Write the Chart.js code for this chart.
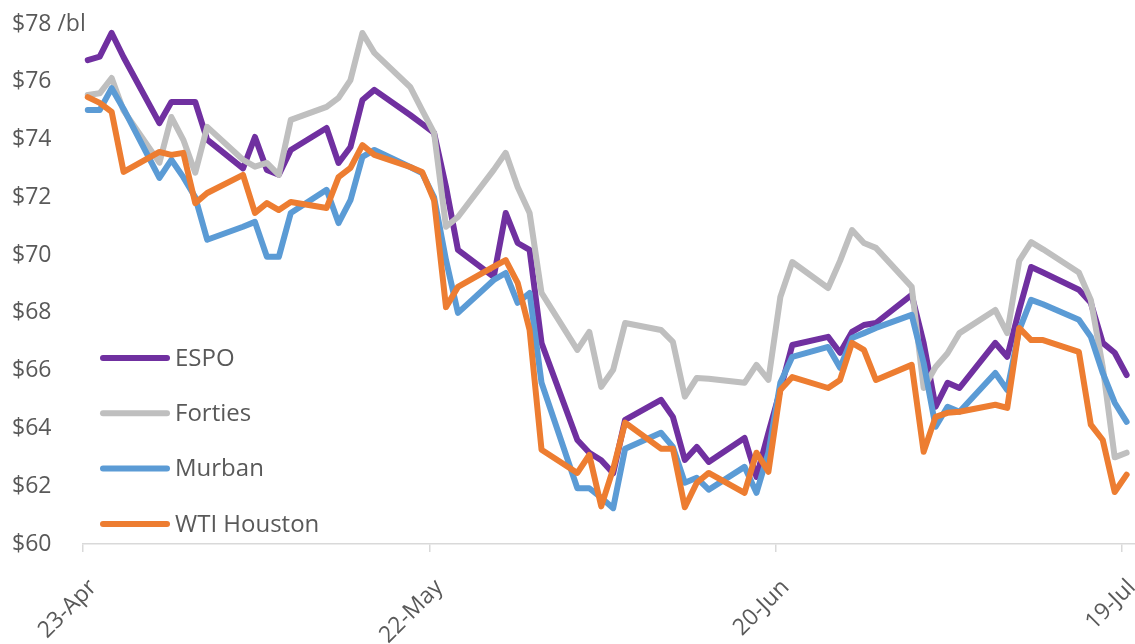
<!DOCTYPE html>
<html>
<head>
<meta charset="utf-8">
<script src="https://cdn.jsdelivr.net/npm/chart.js@4/dist/chart.umd.min.js"></script>
<style>
  html, body { margin: 0; padding: 0; background: #fff; }
</style>
</head>
<body>
<canvas id="myChart" width="1135" height="644"></canvas>
<script>
// trading days, counted in calendar days from 23-Apr
var days = [0, 1, 2, 3,
  6, 7, 8, 9, 10,
  13, 14, 15, 16, 17,
  20, 21, 22, 23, 24,
  27, 28, 29, 30, 31,
  34, 35, 36, 37, 38,
  41, 42, 43, 44, 45,
  48, 49, 50, 51, 52,
  55, 56, 57, 58, 59,
  62, 63, 64, 65, 66,
  69, 70, 71, 72, 73,
  76, 77, 78, 79, 80,
  83, 84, 85, 86, 87];

var espo = [76.75, 76.87, 77.69, 76.85,
  74.57, 75.3, 75.3, 75.3, 74.0,
  73.0, 74.09, 72.95, 72.78, 73.64,
  74.4, 73.19, 73.74, 75.37, 75.72,
  74.85, 74.54, 74.23, 72.36, 70.18,
  69.25, 71.46, 70.42, 70.18, 66.96,
  63.6, 63.16, 62.9, 62.45, 64.3,
  64.99, 64.4, 62.91, 63.36, 62.84,
  63.67, 62.32, 63.85, 65.33, 66.89,
  67.17, 66.62, 67.34, 67.58, 67.65,
  68.62, 66.96, 64.75, 65.58, 65.4,
  66.96, 66.48, 68.1, 69.59, 69.4,
  68.8, 68.35, 66.96, 66.62, 65.85];

var forties = [75.54, 75.6, 76.13, 75.0,
  73.2, 74.78, 73.99, 72.85, 74.44,
  73.3, 73.06, 73.19, 72.78, 74.68,
  75.13, 75.44, 76.06, 77.69, 77.0,
  75.82, 75.02, 74.23, 70.98, 71.32,
  72.95, 73.54, 72.36, 71.46, 68.69,
  66.72, 67.34, 65.44, 66.03, 67.65,
  67.41, 67.0, 65.1, 65.75, 65.72,
  65.58, 66.2, 65.68, 68.55, 69.76,
  68.86, 69.8, 70.87, 70.42, 70.25,
  68.9, 65.4, 66.13, 66.6, 67.3,
  68.1, 67.3, 69.8, 70.45, 70.2,
  69.4, 68.45, 66.13, 63.0, 63.16];

var murban = [75.02, 75.02, 75.78, 75.06,
  72.67, 73.3, 72.7, 72.0, 70.53,
  70.98, 71.15, 69.94, 69.94, 71.46,
  72.26, 71.11, 71.9, 73.4, 73.64,
  73.05, 72.84, 72.0, 69.83, 68.0,
  69.14, 69.38, 68.35, 68.69, 65.58,
  61.93, 61.93, 61.6, 61.24, 63.3,
  63.85, 63.36, 62.12, 62.29, 61.88,
  62.67, 61.77, 63.16, 65.58, 66.48,
  66.82, 66.1, 67.13, 67.3, 67.48,
  67.93, 66.27, 64.06, 64.75, 64.58,
  65.92, 65.33, 67.4, 68.45, 68.3,
  67.76, 67.17, 65.92, 64.89, 64.23];

var wtiHouston = [75.47, 75.27, 74.96, 72.88,
  73.57, 73.47, 73.54, 71.8, 72.15,
  72.78, 71.46, 71.8, 71.56, 71.84,
  71.63, 72.7, 73.02, 73.81, 73.47,
  73.05, 72.88, 71.9, 68.2, 68.9,
  69.6, 69.83, 69.04, 67.41, 63.26,
  62.46, 63.08, 61.3, 62.6, 64.2,
  63.3, 63.3, 61.27, 62.12, 62.46,
  61.77, 63.16, 62.5, 65.33, 65.78,
  65.4, 65.68, 66.96, 66.72, 65.68,
  66.2, 63.19, 64.4, 64.54, 64.58,
  64.82, 64.71, 67.48, 67.06, 67.06,
  66.65, 64.13, 63.6, 61.8, 62.4];

var tickDays = [0, 29, 58, 87];
var tickLabels = ['23-Apr', '22-May', '20-Jun', '19-Jul'];
var unitLabel = ' /bl';

var textColor = '#595959';
var fontFamily = '"Open Sans", sans-serif';
var tickFont = '23px ' + fontFamily;

function pts(vals) {
  return vals.map(function (v, i) { return { x: days[i], y: v }; });
}

function series(label, vals, color, order) {
  return {
    label: label,
    data: pts(vals),
    borderColor: color,
    backgroundColor: color,
    borderWidth: 6,
    pointRadius: 0,
    tension: 0,
    borderJoinStyle: 'round',
    borderCapStyle: 'round',
    order: order
  };
}

// legend sits inside the plot, bottom left; unit text goes after the top y label
var extras = {
  id: 'extras',
  afterDraw: function (chart) {
    var ctx = chart.ctx;
    var ys = chart.scales.y;
    ctx.save();

    // " /bl" next to the top tick label (the axis box would clip it)
    ctx.font = tickFont;
    ctx.fillStyle = textColor;
    ctx.textBaseline = 'middle';
    var topLabel = '$' + ys.max;
    ctx.fillText(unitLabel, ys.left + ctx.measureText(topLabel).width, ys.getPixelForValue(ys.max));

    ctx.font = '24px ' + fontFamily;
    chart.data.datasets.forEach(function (ds, i) {
      var y = 358 + i * 55.3;
      ctx.strokeStyle = ds.borderColor;
      ctx.lineWidth = 6;
      ctx.lineCap = 'round';
      ctx.beginPath();
      ctx.moveTo(103, y);
      ctx.lineTo(167, y);
      ctx.stroke();
      ctx.fillStyle = textColor;
      ctx.fillText(ds.label, 175, y + 1);
    });
    ctx.restore();
  }
};

var ctx = document.getElementById('myChart').getContext('2d');
var chart = new Chart(ctx, {
  type: 'line',
  data: {
    datasets: [
      series('ESPO', espo, '#7030A0', 3),
      series('Forties', forties, '#BFBFBF', 2),
      series('Murban', murban, '#5B9BD5', 1),
      series('WTI Houston', wtiHouston, '#ED7D31', 0)
    ]
  },
  options: {
    responsive: false,
    animation: false,
    devicePixelRatio: 1,
    layout: { padding: { left: 12, top: 24, right: 0, bottom: 0 } },
    plugins: {
      legend: { display: false },
      tooltip: { enabled: false }
    },
    scales: {
      x: {
        type: 'linear',
        min: -0.4,
        max: 87.7,
        afterBuildTicks: function (scale) {
          scale.ticks = tickDays.map(function (d) { return { value: d - 0.4 }; });
        },
        afterFit: function (scale) {
          scale.height = 100;
          scale.paddingLeft = 0;
          scale.paddingRight = 0;
        },
        grid: { drawOnChartArea: false, drawTicks: true, tickLength: 8, color: '#d9d9d9', lineWidth: 1.5 },
        border: { display: true, color: '#d9d9d9', width: 1.5 },
        ticks: {
          autoSkip: false,
          maxRotation: 45,
          minRotation: 45,
          padding: 22,
          labelOffset: 10,
          color: textColor,
          font: { family: fontFamily, size: 23 },
          callback: function (v, i) { return tickLabels[i]; }
        }
      },
      y: {
        min: 60,
        max: 78,
        afterFit: function (scale) {
          scale.width = 71;
          scale.paddingTop = 0;
          scale.paddingBottom = 0;
        },
        grid: { display: false },
        border: { display: false },
        ticks: {
          stepSize: 2,
          crossAlign: 'far',
          padding: 0,
          color: textColor,
          font: { family: fontFamily, size: 23 },
          callback: function (v) { return '$' + v; }
        }
      }
    }
  },
  plugins: [extras]
});
</script>
</body>
</html>
